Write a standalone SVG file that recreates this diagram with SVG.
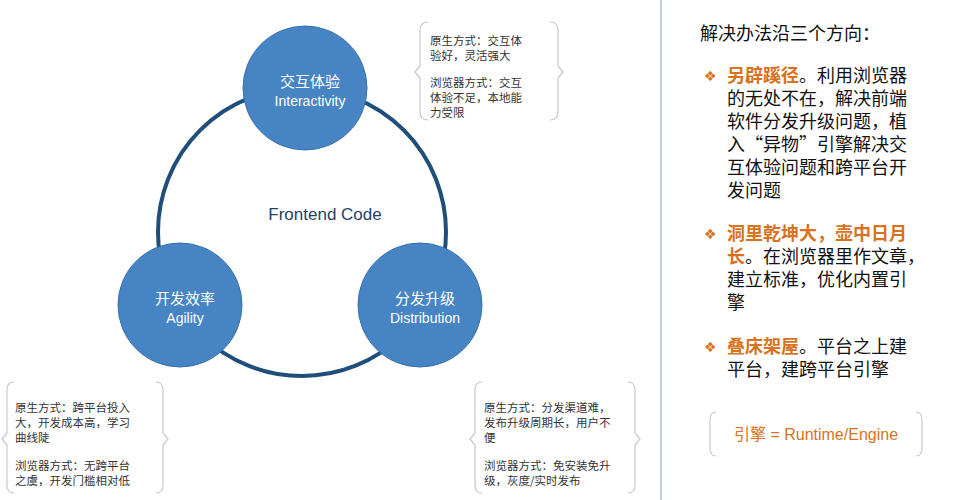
<svg xmlns="http://www.w3.org/2000/svg" width="980" height="500" viewBox="0 0 980 500">
<style>
.node{fill:#4784c3;stroke:#3470ad;stroke-width:1}
.nt{font-family:"Noto Sans CJK SC","Liberation Sans",sans-serif;font-size:15px;fill:#fff;text-anchor:middle}
.ne{font-family:"Liberation Sans",sans-serif;font-size:14px;fill:#fff;text-anchor:middle}
.note{font-family:"Noto Sans CJK SC",sans-serif;font-size:11.5px;fill:#333}
.br{fill:none;stroke:#c8c8c8;stroke-width:1.2}
.rt{font-family:"Noto Sans CJK SC",sans-serif;font-size:18px;fill:#111}
.or{fill:#d9721e;font-weight:bold}
.bul{font-family:"DejaVu Sans",sans-serif;font-size:14px;fill:#d9721e}
</style>
<rect width="980" height="500" fill="#fff"/>
<line x1="661" y1="0" x2="661" y2="500" stroke="#a9c0d6" stroke-width="1.5"/>
<g id="connectors">
<circle cx="302" cy="232" r="144" fill="none" stroke="#1f4e7a" stroke-width="4"/>
</g>
<text x="325" y="220" font-family="Liberation Sans,sans-serif" font-size="17" fill="#1f3f66" text-anchor="middle">Frontend Code</text>
<g id="interactivity"><circle class="node" cx="305" cy="88" r="62"/><text class="nt" x="310" y="87">交互体验</text><text class="ne" x="310" y="106">Interactivity</text></g>
<g id="agility"><circle class="node" cx="180" cy="305" r="62"/><text class="nt" x="185" y="304">开发效率</text><text class="ne" x="185" y="323">Agility</text></g>
<g id="distribution"><circle class="node" cx="420" cy="305" r="62"/><text class="nt" x="425" y="304">分发升级</text><text class="ne" x="425" y="323">Distribution</text></g>
<g id="note-top">
<path class="br" d="M428,22 Q420,22 420,30 L420,66 L415,72 L420,78 L420,112 Q420,120 428,120"/>
<path class="br" d="M550,22 Q558,22 558,30 L558,66 L563,72 L558,78 L558,112 Q558,120 550,120"/>
<text class="note" x="430" y="45">原生方式：交互体</text><text class="note" x="430" y="60">验好，灵活强大</text>
<text class="note" x="430" y="87">浏览器方式：交互</text><text class="note" x="430" y="102">体验不足，本地能</text><text class="note" x="430" y="117">力受限</text>
</g>
<g id="note-left">
<path class="br" d="M14,382 Q7,382 7,390 L7,433 L2,439 L7,445 L7,485 Q7,493 14,493"/>
<path class="br" d="M156,382 Q163,382 163,390 L163,433 L168,439 L163,445 L163,485 Q163,493 156,493"/>
<text class="note" x="15" y="412">原生方式：跨平台投入</text><text class="note" x="15" y="427">大，开发成本高，学习</text><text class="note" x="15" y="442">曲线陡</text>
<text class="note" x="15" y="470">浏览器方式：无跨平台</text><text class="note" x="15" y="485">之虞，开发门槛相对低</text>
</g>
<g id="note-right">
<path class="br" d="M482,382 Q475,382 475,390 L475,433 L470,439 L475,445 L475,485 Q475,493 482,493"/>
<path class="br" d="M628,382 Q635,382 635,390 L635,433 L640,439 L635,445 L635,485 Q635,493 628,493"/>
<text class="note" x="484" y="412">原生方式：分发渠道难，</text><text class="note" x="484" y="427">发布升级周期长，用户不</text><text class="note" x="484" y="442">便</text>
<text class="note" x="484" y="470">浏览器方式：免安装免升</text><text class="note" x="484" y="485">级，灰度/实时发布</text>
</g>
<g id="right-text">
<text class="rt" x="700" y="40">解决办法沿三个方向：</text>
<text class="bul" x="704" y="81">❖</text>
<text class="rt" x="727" y="82"><tspan class="or">另辟蹊径</tspan>。利用浏览器</text>
<text class="rt" x="727" y="105">的无处不在，解决前端</text>
<text class="rt" x="727" y="128">软件分发升级问题，植</text>
<text class="rt" x="727" y="151">入“异物”引擎解决交</text>
<text class="rt" x="727" y="174">互体验问题和跨平台开</text>
<text class="rt" x="727" y="197">发问题</text>
<text class="bul" x="704" y="239">❖</text>
<text class="rt" x="727" y="240"><tspan class="or">洞里乾坤大，壶中日月</tspan></text>
<text class="rt" x="727" y="263"><tspan class="or">长</tspan>。在浏览器里作文章，</text>
<text class="rt" x="727" y="286">建立标准，优化内置引</text>
<text class="rt" x="727" y="309">擎</text>
<text class="bul" x="704" y="352">❖</text>
<text class="rt" x="727" y="353"><tspan class="or">叠床架屋</tspan>。平台之上建</text>
<text class="rt" x="727" y="376">平台，建跨平台引擎</text>
<path class="br" d="M716,412 Q710,412 710,420 L710,448 Q710,456 716,456 M916,412 Q922,412 922,420 L922,448 Q922,456 916,456"/>
<text x="816" y="440" text-anchor="middle" font-family="Liberation Sans,Noto Sans CJK SC,sans-serif" font-size="16" fill="#d9721e">引擎 = Runtime/Engine</text>
</g>
</svg>
